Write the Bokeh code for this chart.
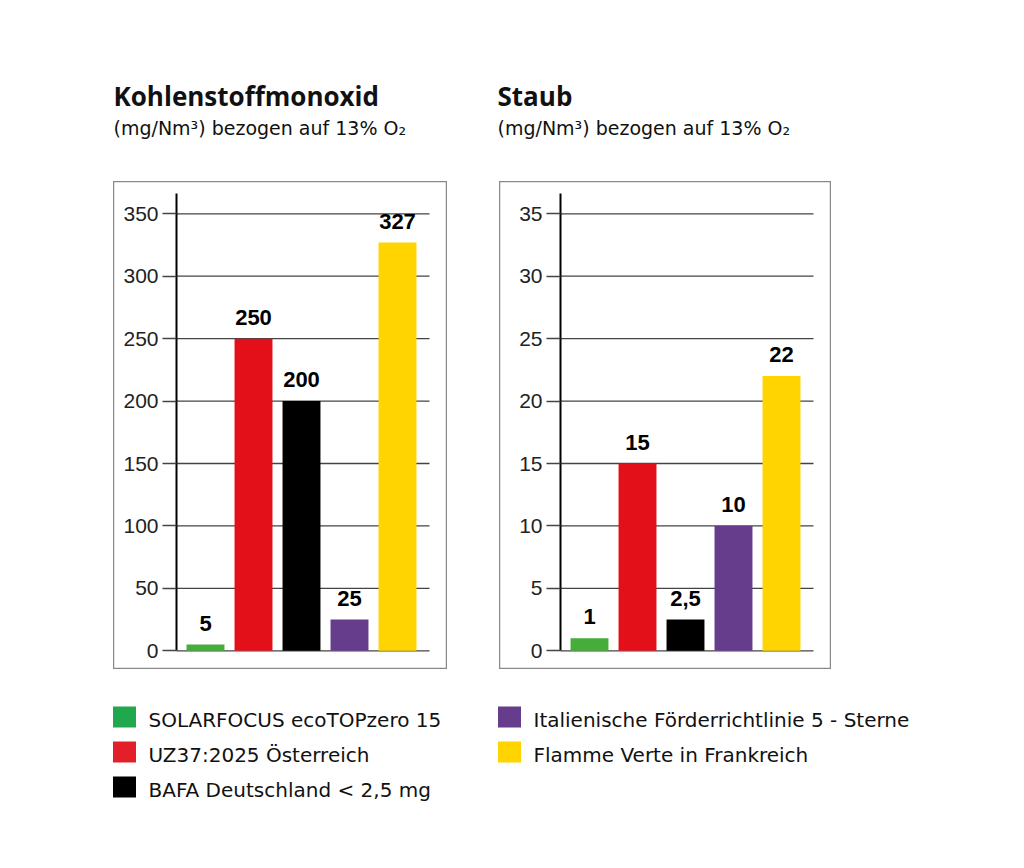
from bokeh.plotting import figure
from bokeh.models import Range1d, FixedTicker, Spacer, LinearAxis
from bokeh.layouts import column, row
from bokeh.core.properties import value
from bokeh.embed import file_html
from bokeh.resources import INLINE

# ---------------- data ----------------
categories = ["SOLARFOCUS ecoTOPzero 15", "UZ37:2025 Österreich",
              "BAFA Deutschland < 2,5 mg", "Italienische Förderrichtlinie 5 - Sterne",
              "Flamme Verte in Frankreich"]
colors = ["#46ad3a", "#e3101a", "#000000", "#663c8c", "#ffd400"]
legend_colors = ["#22a84c", "#e3202a", "#000000", "#663c8c", "#ffd400"]

co_values = [5, 250, 200, 25, 327]
co_labels = ["5", "250", "200", "25", "327"]
co_ticks = [0, 50, 100, 150, 200, 250, 300, 350]

dust_values = [1, 15, 2.5, 10, 22]
dust_labels = ["1", "15", "2,5", "10", "22"]
dust_ticks = [0, 5, 10, 15, 20, 25, 30, 35]

titles = ["Kohlenstoffmonoxid", "Staub"]
subtitle = "(mg/Nm³) bezogen auf 13% O₂"

TITLE_FONT = "Open Sans"
TEXT_FONT = "DejaVu Sans"
NUM_FONT = "Liberation Sans"


def chart(vals, labels, ticks, scale, width, x_start):
    # scale: 1 for CO (0..350), 0.1 for dust (0..35)
    p = figure(width=width, height=488, output_backend="svg", toolbar_location=None,
               x_range=Range1d(x_start, x_start + width / 48.0),
               y_range=Range1d(-14.97 * scale, 375.86 * scale),
               min_border=0, tools="", x_axis_location=None, y_axis_location=None,
               outline_line_color="#8a8a8a", outline_line_width=1.5,
               background_fill_color="white", border_fill_color="white")
    p.grid.visible = False
    ax_x = -0.604
    ax = LinearAxis(ticker=FixedTicker(ticks=ticks), fixed_location=ax_x,
                    bounds=(0, 366.3 * scale))
    ax.axis_line_color = "black"
    ax.axis_line_width = 2
    ax.major_tick_out = 14
    ax.major_tick_in = 0
    ax.major_tick_line_color = "#444444"
    ax.major_tick_line_width = 1.3
    ax.minor_tick_line_color = None
    ax.major_label_standoff = 4
    ax.major_label_text_font = NUM_FONT
    ax.major_label_text_font_size = "21px"
    ax.major_label_text_color = "#222222"
    p.add_layout(ax, "left")
    # horizontal grid lines from the axis to the right
    p.segment(x0=[ax_x] * len(ticks), x1=[4.667] * len(ticks), y0=ticks, y1=ticks,
              line_color="#444444", line_width=1.3)
    x = list(range(len(vals)))
    p.vbar(x=x, top=vals, width=0.79, color=colors, line_color=None)
    p.text(x=x, y=vals, text=labels, y_offset=-14, text_align="center",
           text_baseline="bottom", text_font=value(NUM_FONT), text_font_style="bold",
           text_font_size="22px", text_color="black")
    return p


left_chart = chart(co_values, co_labels, co_ticks, 1.0, 334, -1.9167)
right_chart = chart(dust_values, dust_labels, dust_ticks, 0.1, 332, -1.875)

# header
hdr = figure(width=1008, height=181, output_backend="svg", toolbar_location=None,
             x_range=Range1d(0, 1008), y_range=Range1d(181, 0), min_border=0,
             tools="", outline_line_color=None, x_axis_location=None, y_axis_location=None)
hdr.grid.visible = False
hdr.text(x=[113, 497], y=[95, 95], text=titles, text_font=value(TITLE_FONT),
         text_font_style="bold", text_font_size="26px", text_color="#111111",
         text_baseline="alphabetic")
hdr.text(x=[113, 497], y=[127, 127], text=[subtitle, subtitle], text_font=value(TEXT_FONT),
         text_font_size="19px", text_color="#111111", text_baseline="alphabetic")

# legend
leg = figure(width=1008, height=180, output_backend="svg", toolbar_location=None,
             x_range=Range1d(0, 1008), y_range=Range1d(849, 669), min_border=0,
             tools="", outline_line_color=None, x_axis_location=None, y_axis_location=None)
leg.grid.visible = False
lx = [124, 124, 124, 509, 509]
ly = [716.5, 751.5, 786.5, 716.5, 751.5]
leg.rect(x=lx, y=ly, width=23, height=21, color=legend_colors, line_color=None)
leg.text(x=[v + 24 for v in lx], y=[v + 3 for v in ly], text=categories,
         text_font=value(TEXT_FONT), text_font_size="20px", text_color="#111111",
         text_baseline="alphabetic")

layout = column(hdr,
                row(Spacer(width=113, height=488), left_chart,
                    Spacer(width=52, height=488), right_chart),
                leg)

open("out.html", "w").write(file_html(layout, INLINE))
